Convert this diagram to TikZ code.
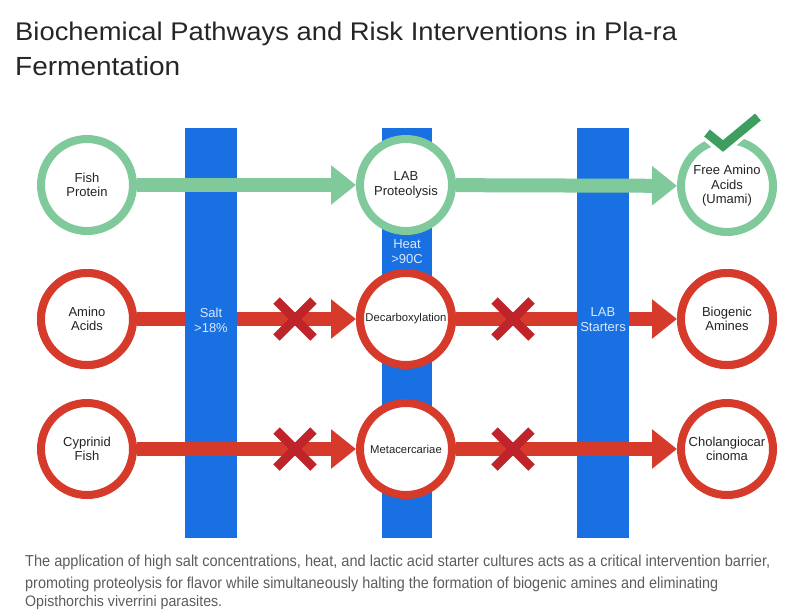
\documentclass[tikz,border=0pt]{standalone}
\usepackage{fontspec}
\setmainfont{Liberation Sans}
\usetikzlibrary{arrows.meta}
\definecolor{gring}{RGB}{128,201,154}
\definecolor{gcheck}{RGB}{62,158,95}
\definecolor{rring}{RGB}{214,58,42}
\definecolor{xcol}{RGB}{190,36,42}
\definecolor{barblue}{RGB}{24,112,226}
\definecolor{bartext}{RGB}{218,232,252}
\definecolor{titlecol}{RGB}{38,38,38}
\definecolor{capcol}{RGB}{92,92,92}
\definecolor{txtcol}{RGB}{35,35,35}
\begin{document}
\begin{tikzpicture}[x=1pt,y=-1pt,
  ring/.style={circle,draw,fill=white,line width=8pt,minimum size=92pt,inner sep=0pt,
    align=center,text=txtcol,font=\fontsize{13}{14.5}\selectfont},
  gnode/.style={ring,draw=gring},
  rnode/.style={ring,draw=rring},
  small/.style={font=\fontsize{11.3}{13}\selectfont},
  garrow/.style={draw=gring,line width=14pt,-{Triangle[length=25pt,width=38pt]}},
  rarrow/.style={draw=rring,line width=14pt,-{Triangle[length=25pt,width=38pt]}},
  barlabel/.style={text=bartext,align=center,inner sep=0pt,font=\fontsize{13}{15}\selectfont},
  xmark/.pic={\draw[xcol,line width=9pt] (-18.5,-18.5) -- (18.5,18.5) (-18.5,18.5) -- (18.5,-18.5);},
  txtline/.style={anchor=base west,inner sep=0pt}
]
\useasboundingbox (0,0) rectangle (800,611);
\path (87,185) coordinate (c11) (406,185) coordinate (c12) (727,186) coordinate (c13)
      (87,319) coordinate (c21) (406,319) coordinate (c22) (727,319) coordinate (c23)
      (87,449) coordinate (c31) (406,449) coordinate (c32) (727,449) coordinate (c33);
% row 2 arrows (below bars)
\node[rnode] (aa) at (c21) {Amino\\Acids};
\node[rnode,small] (dec) at (c22) {Decarboxylation};
\node[rnode] (ba) at (c23) {Biogenic\\Amines};
\draw[rarrow] (aa) -- (dec);
\draw[rarrow] (dec) -- (ba);
% bars
\fill[barblue] (185,128) rectangle (237,538);
\fill[barblue] (382,128) rectangle (432,538);
\fill[barblue] (577,128) rectangle (629,538);
% row 1
\node[gnode] (fp) at (c11) {Fish\\Protein};
\node[gnode] (lab) at (c12) {LAB\\Proteolysis};
\node[gnode] (faa) at (c13) {Free Amino\\Acids\\(Umami)};
\draw[garrow] (fp) -- (lab);
\draw[garrow] (lab) -- (faa);
% row 3
\node[rnode] (cf) at (c31) {Cyprinid\\Fish};
\node[rnode,small] (met) at (c32) {Metacercariae};
\node[rnode] (cho) at (c33) {Cholangiocar\\cinoma};
\draw[rarrow] (cf) -- (met);
\draw[rarrow] (met) -- (cho);
% redraw row 2 circles above bar 2
\node[rnode,small] at (c22) {Decarboxylation};
\node[rnode] at (c21) {Amino\\Acids};
\node[rnode] at (c23) {Biogenic\\Amines};
% crosses
\pic at (295,319) {xmark};
\pic at (513,319) {xmark};
\pic at (295,449) {xmark};
\pic at (513,449) {xmark};
% check
\draw[white,line width=16pt,line join=miter] (707,133) -- (723,146) -- (758,117);
\draw[gcheck,line width=9pt,line join=miter] (707,133) -- (723,146) -- (758,117);
% bar labels
\node[barlabel] (salt) at (211,320) {Salt\\>18\%};
\node[barlabel] (heat) at (407,252) {Heat\\>90C};
\node[barlabel] (starters) at (603,320) {LAB\\Starters};
% title
\node[txtline,text=titlecol] (t1) at (15,40) {\resizebox{662pt}{18.5pt}{\fontsize{25}{25}\selectfont Biochemical Pathways and Risk Interventions in Pla-ra}};
\node[txtline,text=titlecol] (t2) at (15,75) {\resizebox{165pt}{19pt}{\fontsize{25}{25}\selectfont Fermentation}};
% caption
\node[txtline,text=capcol] (p1) at (25,566) {\resizebox{745pt}{11.5pt}{\fontsize{15}{15}\selectfont The application of high salt concentrations, heat, and lactic acid starter cultures acts as a critical intervention barrier,}};
\node[txtline,text=capcol] (p2) at (25,588) {\resizebox{693pt}{11.5pt}{\fontsize{15}{15}\selectfont promoting proteolysis for flavor while simultaneously halting the formation of biogenic amines and eliminating}};
\node[txtline,text=capcol] (p3) at (25,606.5) {\resizebox{197pt}{11pt}{\fontsize{15}{15}\selectfont Opisthorchis viverrini parasites.}};
\end{tikzpicture}
\end{document}
